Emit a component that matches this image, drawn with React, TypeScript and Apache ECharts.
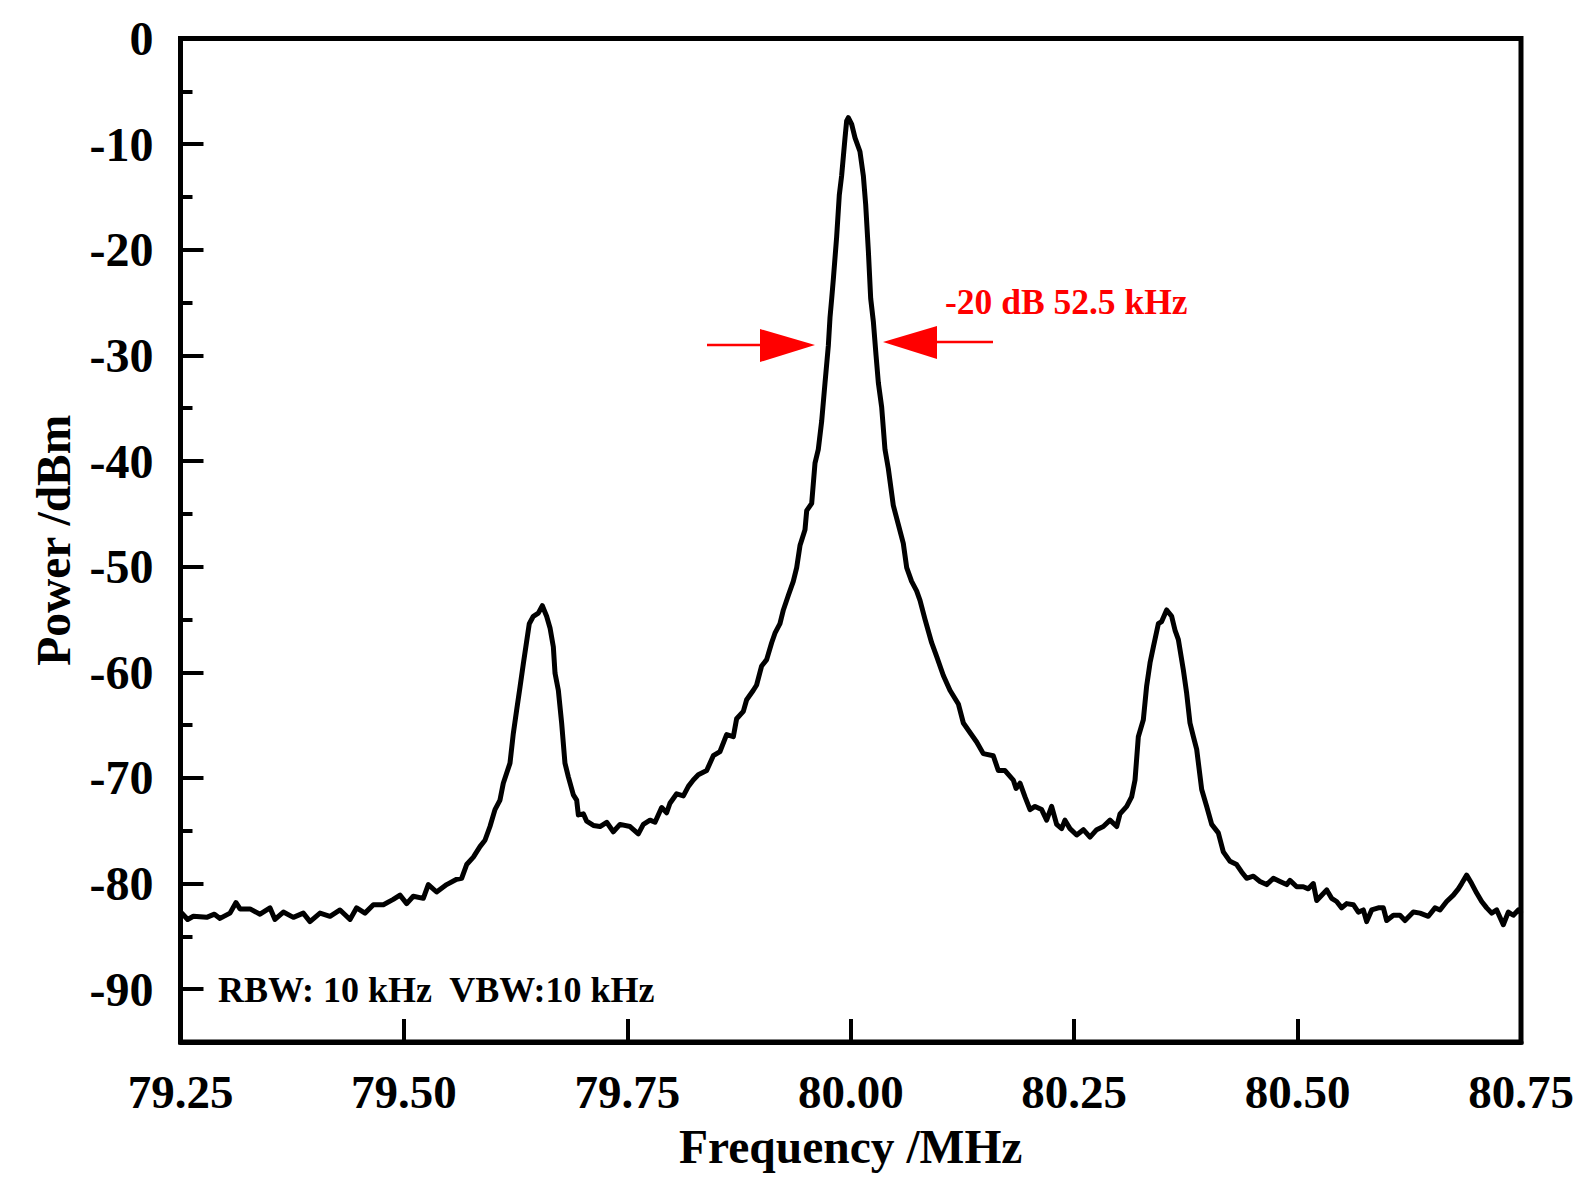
import React, { useEffect, useRef } from "react";
import * as echarts from "echarts";

// Spectrum trace (MHz, dBm)
const freqLeft = [
  79.2515, 79.258, 79.2644, 79.2793, 79.288, 79.2942, 79.3054, 79.3121, 79.3166, 79.3278,
  79.339, 79.3501, 79.3557, 79.3651, 79.3763, 79.3874, 79.3949, 79.4061, 79.4173, 79.4285,
  79.4397, 79.4471, 79.4564, 79.4658, 79.477, 79.4881, 79.4956, 79.5031, 79.5105, 79.5217,
  79.5273, 79.5366, 79.5478, 79.559, 79.5646, 79.5702, 79.5777, 79.5851, 79.5907, 79.5963,
  79.6019, 79.6075, 79.6112, 79.6187, 79.6224, 79.6261, 79.6299, 79.6336, 79.6373, 79.6403,
  79.6448, 79.6504, 79.6549, 79.6597, 79.6635, 79.6672, 79.6691, 79.6728, 79.6765, 79.6802,
  79.684, 79.6896, 79.6933, 79.6952, 79.7008, 79.7045, 79.712,
];
const powerLeft = [
  -82.8, -83.4, -83.1, -83.2, -82.9, -83.3, -82.8, -81.8, -82.4, -82.4,
  -82.9, -82.3, -83.4, -82.7, -83.2, -82.8, -83.6, -82.8, -83.1, -82.5,
  -83.4, -82.3, -82.8, -82.0, -82.0, -81.5, -81.1, -81.9, -81.2, -81.4,
  -80.1, -80.8, -80.1, -79.6, -79.5, -78.2, -77.5, -76.5, -75.9, -74.6,
  -73.0, -72.1, -70.5, -68.6, -65.8, -63.6, -61.4, -59.2, -57.1, -55.4,
  -54.7, -54.4, -53.7, -54.7, -55.8, -57.6, -60.1, -61.7, -64.8, -68.6,
  -69.9, -71.6, -72.1, -73.5, -73.4, -74.1, -74.5,
];

const freqCentre = [
  79.7194, 79.7269, 79.7343, 79.7418, 79.753, 79.7623, 79.7679, 79.7754, 79.781, 79.7884,
  79.794, 79.7977, 79.8052, 79.8127, 79.8183, 79.8238, 79.8294, 79.8388, 79.8462, 79.8537,
  79.8611, 79.8686, 79.8723, 79.8798, 79.8835, 79.891, 79.8947, 79.9003, 79.9059, 79.9115,
  79.9152, 79.9208, 79.9246, 79.9302, 79.9357, 79.9395, 79.9432, 79.9488, 79.9507, 79.9563,
  79.96, 79.9637, 79.9675, 79.9712, 79.9749, 79.9768, 79.9787, 79.9805, 79.9842, 79.9872,
  79.9898, 79.9936, 79.9954, 79.9973, 80.001, 80.0048, 80.0103, 80.0141, 80.0167, 80.0197,
  80.0223, 80.0253, 80.0283, 80.0309, 80.0346, 80.0383, 80.042, 80.0476, 80.0532, 80.0588,
  80.0626, 80.0681, 80.0737, 80.0775, 80.0831, 80.0905, 80.0961, 80.1036, 80.111, 80.1204,
  80.126, 80.1334, 80.1409, 80.1483, 80.1595, 80.1651, 80.1726, 80.1819, 80.185,
];
const powerCentre = [
  -74.6, -74.2, -75.1, -74.4, -74.6, -75.3, -74.4, -74.0, -74.2, -72.8,
  -73.3, -72.4, -71.5, -71.7, -70.8, -70.2, -69.7, -69.3, -67.9, -67.5,
  -65.9, -66.1, -64.4, -63.7, -62.6, -61.7, -61.2, -59.4, -58.8, -57.2,
  -56.3, -55.4, -54.1, -52.7, -51.4, -50.1, -48.0, -46.5, -44.7, -44.0,
  -40.2, -38.9, -36.2, -32.6, -29.1, -26.4, -24.6, -22.8, -18.8, -14.8,
  -13.0, -9.4, -7.8, -7.5, -8.1, -9.4, -10.7, -13.0, -15.7, -20.1,
  -24.6, -26.8, -30.0, -32.6, -34.9, -38.9, -40.7, -44.2, -46.0, -47.8,
  -50.1, -51.4, -52.3, -53.2, -55.0, -57.2, -58.5, -60.3, -61.7, -63.0,
  -64.8, -65.7, -66.6, -67.7, -67.9, -69.3, -69.3, -70.2, -71.0,
];

const freqRight = [
  80.1894, 80.195, 80.2006, 80.2062, 80.2136, 80.2192, 80.2248, 80.2304, 80.236, 80.2397,
  80.2453, 80.2528, 80.2603, 80.2677, 80.2752, 80.2826, 80.2901, 80.2976, 80.3013, 80.3088,
  80.3143, 80.3181, 80.3218, 80.3274, 80.3311, 80.3349, 80.3386, 80.3442, 80.3479, 80.3535,
  80.3591, 80.3628, 80.3666, 80.3722, 80.3759, 80.3796, 80.3834, 80.3871, 80.3927, 80.3983,
  80.4039, 80.4113, 80.4169, 80.4244, 80.4318, 80.4374, 80.443, 80.4505, 80.4579, 80.4654,
  80.4729, 80.4803, 80.4878, 80.4915, 80.499, 80.5064, 80.512, 80.5176, 80.5214, 80.527,
  80.5326, 80.5381, 80.5437, 80.5493, 80.5549, 80.5624, 80.568, 80.5736, 80.5773, 80.5829,
  80.5904, 80.596, 80.5997, 80.6072, 80.6146, 80.6202, 80.6295, 80.637, 80.6463, 80.6538,
  80.6594, 80.6668, 80.6743, 80.6799, 80.6836, 80.6892, 80.6948, 80.7004, 80.706, 80.7116,
  80.7172, 80.7228, 80.7302, 80.7358, 80.7414, 80.747, 80.7495,
];
const powerRight = [
  -70.5, -71.8, -73.0, -72.7, -73.0, -74.0, -72.7, -74.4, -74.8, -74.0,
  -74.8, -75.4, -74.9, -75.6, -74.9, -74.6, -74.0, -74.6, -73.4, -72.7,
  -71.8, -70.2, -66.1, -64.5, -61.3, -59.1, -57.6, -55.4, -55.2, -54.1,
  -54.7, -56.0, -56.9, -59.8, -62.0, -64.8, -66.1, -67.3, -71.1, -72.7,
  -74.4, -75.2, -77.0, -77.9, -78.2, -78.9, -79.5, -79.3, -79.8, -80.1,
  -79.5, -79.8, -80.1, -79.7, -80.3, -80.3, -80.5, -80.0, -81.6, -81.1,
  -80.6, -81.4, -81.7, -82.3, -81.9, -82.0, -82.7, -82.5, -83.6, -82.5,
  -82.3, -82.3, -83.5, -83.0, -83.0, -83.5, -82.7, -82.8, -83.1, -82.3,
  -82.5, -81.7, -81.1, -80.5, -80.0, -79.2, -80.0, -80.9, -81.7, -82.3,
  -82.8, -82.5, -83.9, -82.7, -83.0, -82.5, -82.7,
];

const yMajorTicks = [0, -10, -20, -30, -40, -50, -60, -70, -80, -90];
const yMinorTicks = [-5, -15, -25, -35, -45, -55, -65, -75, -85];

const annotationText = "-20 dB 52.5 kHz";
const bandwidthText = "RBW: 10 kHz  VBW:10 kHz";

const FONT = "'Liberation Serif', 'Times New Roman', Times, serif";

export default function App() {
  const ref = useRef<HTMLDivElement>(null);

  useEffect(() => {
    if (!ref.current) return;
    const chart = echarts.init(ref.current, null, { renderer: "svg" });
    const freq = [...freqLeft, ...freqCentre, ...freqRight];
    const power = [...powerLeft, ...powerCentre, ...powerRight];
    const data = freq.map((f, i) => [f, power[i]]);

    const axisName = {
      fontSize: 47.5,
      fontWeight: "bold",
      fontFamily: FONT,
      color: "#000",
      lineHeight: 47,
    };

    chart.setOption({
      animation: false,
      backgroundColor: "#fff",
      grid: {
        left: 180.5,
        right: 70,
        top: 38.5,
        bottom: 158,
        show: true,
        borderColor: "#000",
        borderWidth: 5,
        backgroundColor: "transparent",
        outerBoundsMode: "none",
        containLabel: false,
      },
      xAxis: {
        type: "value",
        min: 79.25,
        max: 80.75,
        interval: 0.25,
        axisLine: { show: true, onZero: false, lineStyle: { color: "#000", width: 5 } },
        axisTick: { show: true, inside: true, length: 23, lineStyle: { color: "#000", width: 4 } },
        axisLabel: {
          fontSize: 47,
          fontWeight: "bold",
          fontFamily: FONT,
          color: "#000",
          margin: 26,
          showMinLabel: true,
          showMaxLabel: true,
          formatter: (v: number) => v.toFixed(2),
        },
        splitLine: { show: false },
        name: "Frequency /MHz",
        nameLocation: "middle",
        nameGap: 81,
        nameTextStyle: axisName,
      },
      yAxis: [
        {
          type: "value",
          min: -95,
          max: 0,
          position: "left",
          axisLine: { show: true, onZero: false, lineStyle: { color: "#000", width: 5 } },
          axisTick: {
            show: true,
            inside: true,
            length: 23,
            customValues: yMajorTicks,
            lineStyle: { color: "#000", width: 4 },
          },
          axisLabel: {
            fontSize: 48,
            fontWeight: "bold",
            fontFamily: FONT,
            color: "#000",
            margin: 27,
            customValues: yMajorTicks,
            formatter: (v: number) => String(v),
          },
          splitLine: { show: false },
          name: "Power /dBm",
          nameLocation: "middle",
          nameGap: 103,
          nameTextStyle: axisName,
        },
        {
          type: "value",
          min: -95,
          max: 0,
          position: "left",
          offset: 0,
          axisLine: { show: false, onZero: false },
          axisTick: {
            show: true,
            inside: true,
            length: 12,
            customValues: yMinorTicks,
            lineStyle: { color: "#000", width: 4 },
          },
          axisLabel: { show: false },
          splitLine: { show: false },
        },
      ],
      series: [
        {
          type: "line",
          data,
          xAxisIndex: 0,
          yAxisIndex: 0,
          showSymbol: false,
          symbol: "none",
          silent: true,
          clip: true,
          lineStyle: { color: "#000", width: 5, join: "round", cap: "round" },
        },
      ],
      graphic: [
        {
          type: "line",
          shape: { x1: 707, y1: 345, x2: 762, y2: 345 },
          style: { stroke: "#ff0000", lineWidth: 2.6 },
        },
        {
          type: "polygon",
          shape: { points: [[760, 329], [760, 362], [815, 345]] },
          style: { fill: "#ff0000" },
        },
        {
          type: "line",
          shape: { x1: 935, y1: 342, x2: 993, y2: 342 },
          style: { stroke: "#ff0000", lineWidth: 2.6 },
        },
        {
          type: "polygon",
          shape: { points: [[937, 326], [937, 359], [883, 342]] },
          style: { fill: "#ff0000" },
        },
        {
          type: "text",
          x: 945,
          y: 302,
          style: {
            text: annotationText,
            fill: "#ff0000",
            fontSize: 35.5,
            fontWeight: "bold",
            fontFamily: FONT,
            align: "left",
            verticalAlign: "middle",
          },
        },
        {
          type: "text",
          x: 218,
          y: 990,
          style: {
            text: bandwidthText,
            fill: "#000",
            fontSize: 36,
            fontWeight: "bold",
            fontFamily: FONT,
            align: "left",
            verticalAlign: "middle",
          },
        },
      ],
    });

    return () => chart.dispose();
  }, []);

  return (
    <div
      ref={ref}
      style={{ position: "absolute", left: 0, top: 0, width: 1591, height: 1200, background: "#fff" }}
    />
  );
}
